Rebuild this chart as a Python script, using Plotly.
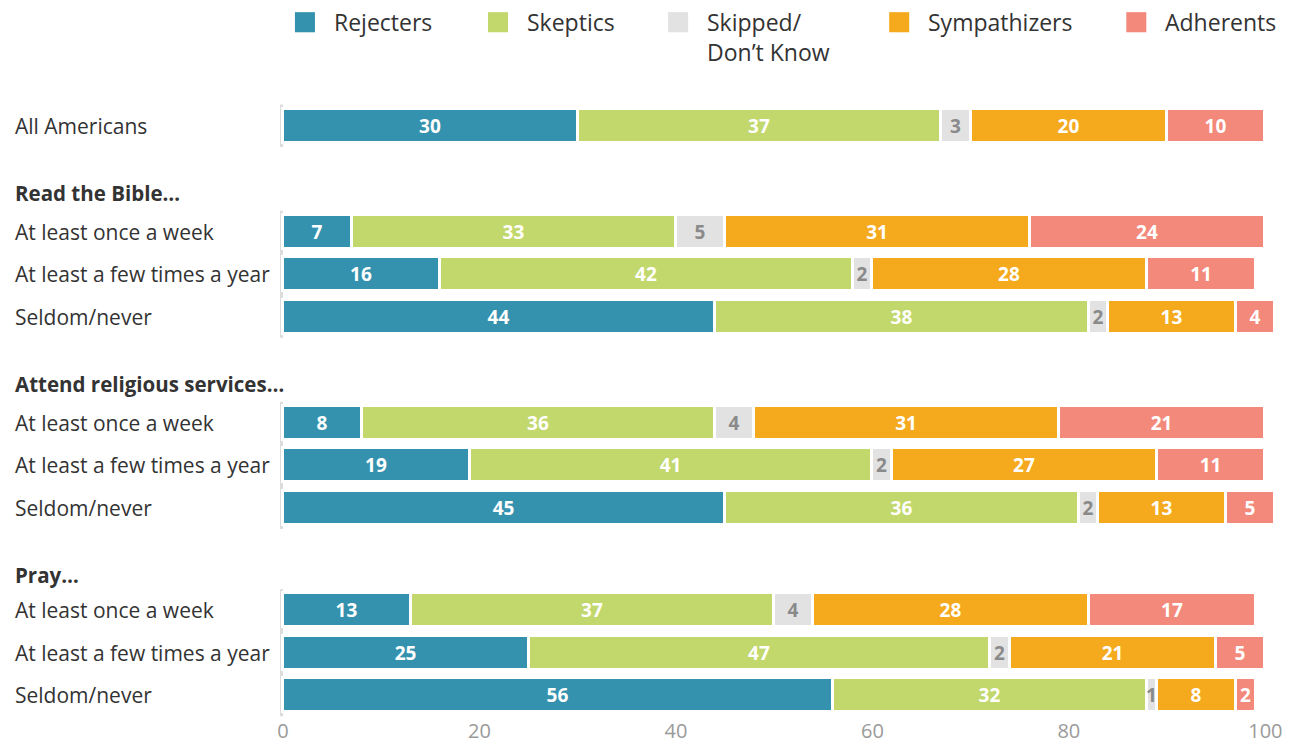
import plotly.graph_objects as go

# ---------------- data ----------------
series_names = ["Rejecters", "Skeptics", "Skipped/<br>Don’t Know", "Sympathizers", "Adherents"]
series_colors = ["#3592AE", "#C2D86C", "#E2E2E2", "#F5AA1E", "#F3897A"]

group_headers = [None, "Read the Bible…", "Attend religious services…", "Pray…"]
row_labels = ["All Americans",
              "At least once a week", "At least a few times a year", "Seldom/never",
              "At least once a week", "At least a few times a year", "Seldom/never",
              "At least once a week", "At least a few times a year", "Seldom/never"]
row_group = [0, 1, 1, 1, 2, 2, 2, 3, 3, 3]

rejecters = [30, 7, 16, 44, 8, 19, 45, 13, 25, 56]
skeptics = [37, 33, 42, 38, 36, 41, 36, 37, 47, 32]
skipped = [3, 5, 2, 2, 4, 2, 2, 4, 2, 1]
sympathizers = [20, 31, 28, 13, 31, 27, 13, 28, 21, 8]
adherents = [10, 24, 11, 4, 21, 11, 5, 17, 5, 2]
series_values = [rejecters, skeptics, skipped, sympathizers, adherents]

x_ticks = [0, 20, 40, 60, 80, 100]

# ---------------- layout constants ----------------
FONT = "Open Sans"
FIG_W, FIG_H = 1297, 756
A_SQ, B_SQ = 0.9862, 1.3           # vertical page -> picture mapping observed


def page_to_ref(p):
    return A_SQ * p + B_SQ


X0PX, X100PX = 283, 1265           # pixel of x=0 and x=100
XMIN, XMAX = -0.4, 102
PX_PER = (X100PX - X0PX) / 100.0
L = X0PX + XMIN * PX_PER
R = X0PX + XMAX * PX_PER
T, B = 80, 726                     # plot top / bottom (page pixels)
Y0REF, UNIT = 126, 42.3            # picture pixel of first row, pixels per row unit
GAP_BEFORE_HEADER = [None, 1.58, 1.6, 1.6]
HEADER_TO_ROW = [None, 0.93, 0.92, 0.83]
BAR_W = 34 / UNIT

# row positions
pos, header_pos = [], []
y = 0.0
for i, g in enumerate(row_group):
    if i > 0:
        if g != row_group[i - 1]:
            y += GAP_BEFORE_HEADER[g]
            header_pos.append((y, group_headers[g]))
            y += HEADER_TO_ROW[g]
        else:
            y += 1
    pos.append(y)

y_top = (page_to_ref(T) - Y0REF) / UNIT
y_bot = (page_to_ref(B) - Y0REF) / UNIT

W = R - L
H = B - T


def px_x(px):
    return (px - L) / W


def fig_y(fy):
    return (B - fy) / H


fig = go.Figure()
for name, color, vals in zip(series_names, series_colors, series_values):
    txt_color = "#8A8A8A" if color == "#E2E2E2" else "white"
    fig.add_trace(go.Bar(
        x=vals, y=pos, orientation="h", name=name.replace("<br>", " "),
        marker=dict(color=color, line=dict(color="white", width=3)),
        width=BAR_W,
        text=[str(v) for v in vals], textposition="inside",
        insidetextanchor="middle", textangle=0,
        textfont=dict(family=FONT, size=19, color=txt_color, weight=700),
        showlegend=False, hoverinfo="x+name",
    ))

annotations = []
shapes = []

# row labels
for p, lab in zip(pos, row_labels):
    annotations.append(dict(text=lab, x=px_x(13), xref="paper", y=p, yref="y",
                            xanchor="left", yanchor="middle", showarrow=False,
                            font=dict(family=FONT, size=21, color="#333333")))
# headers
for p, lab in header_pos:
    annotations.append(dict(text=lab, x=px_x(13), xref="paper", y=p, yref="y",
                            xanchor="left", yanchor="middle", showarrow=False,
                            font=dict(family=FONT, size=20.5, color="#333333", weight=700)))

# vertical baseline segments per group
for g in sorted(set(row_group)):
    ps = [p for p, gg in zip(pos, row_group) if gg == g]
    shapes.append(dict(type="line", xref="x", yref="y", x0=-0.15, x1=-0.15,
                       y0=min(ps) - BAR_W / 2 - 0.1, y1=max(ps) + BAR_W / 2 + 0.1,
                       line=dict(color="#DCDCDC", width=3), layer="below"))

# manual legend
legend_swatch_px = [295, 488, 668, 889, 1126]
for sx, name, color in zip(legend_swatch_px, series_names, series_colors):
    shapes.append(dict(type="rect", xref="paper", yref="paper",
                       x0=px_x(sx), x1=px_x(sx + 20), y0=fig_y(31.6), y1=fig_y(11.2),
                       fillcolor=color, line=dict(width=0)))
    annotations.append(dict(text=name, x=px_x(sx + 37), xref="paper",
                            y=fig_y(3.4), yref="paper",
                            xanchor="left", yanchor="top",
                            align="left", showarrow=False,
                            font=dict(family=FONT, size=23, color="#333333")))

fig.update_layout(
    width=FIG_W, height=FIG_H, autosize=False,
    margin=dict(l=L, r=FIG_W - R, t=T, b=FIG_H - B, pad=0),
    plot_bgcolor="white", paper_bgcolor="white",
    barmode="stack", bargap=0,
    font=dict(family=FONT),
    uniformtext=dict(minsize=19, mode="show"),
    xaxis=dict(range=[XMIN, XMAX], tickvals=x_ticks, showgrid=False, zeroline=False,
               showline=False, ticks="", tickfont=dict(family=FONT, size=20, color="#9A9A9A")),
    yaxis=dict(range=[y_bot, y_top], showgrid=False, zeroline=False, showline=False,
               showticklabels=False, ticks=""),
    annotations=annotations, shapes=shapes, showlegend=False,
)

fig.write_html("out.html", config={"displayModeBar": False},
               post_script="document.body.style.margin='0';")
